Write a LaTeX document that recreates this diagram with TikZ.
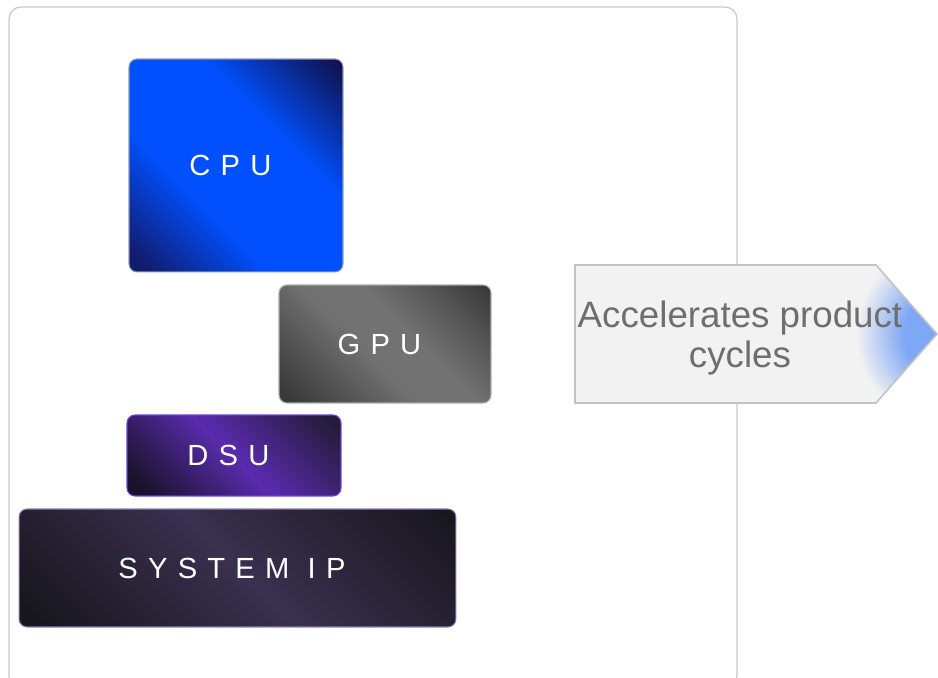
\documentclass[tikz,border=0pt]{standalone}
\usepackage{fontspec}
\setmainfont{Liberation Sans}
\newfontfamily\chipfont[LetterSpace=35]{Liberation Sans}
\definecolor{framegray}{HTML}{C8C8C8}
\definecolor{cpudark}{HTML}{121C6E}
\definecolor{cpublue}{HTML}{0050FF}
\definecolor{cpunight}{HTML}{10124E}
\definecolor{cpuedge}{HTML}{8A96B8}
\definecolor{gpudark}{HTML}{3A3A3A}
\definecolor{gpulight}{HTML}{727272}
\definecolor{gpuedge}{HTML}{A8A8A8}
\definecolor{dsudark}{HTML}{18132A}
\definecolor{dsuviolet}{HTML}{5A2BAE}
\definecolor{dsunight}{HTML}{231C38}
\definecolor{dsuedge}{HTML}{6F3FD6}
\definecolor{ipdark}{HTML}{18171D}
\definecolor{ipmid}{HTML}{3A3050}
\definecolor{ipedge}{HTML}{8C7CAC}
\definecolor{arrowfill}{HTML}{F2F2F2}
\definecolor{arrowblue}{HTML}{7EA7F5}
\definecolor{arrowedge}{HTML}{C2C2C2}
\definecolor{textgray}{HTML}{6E6E6E}
\pgfdeclarehorizontalshading{cpushade}{100bp}{color(0bp)=(cpudark); color(18bp)=(cpudark); color(38bp)=(cpublue); color(62bp)=(cpublue); color(84bp)=(cpunight); color(100bp)=(cpunight)}
\pgfdeclarehorizontalshading{gpushade}{100bp}{color(0bp)=(gpudark); color(18bp)=(gpudark); color(45bp)=(gpulight); color(58bp)=(gpulight); color(84bp)=(gpudark); color(100bp)=(gpudark)}
\pgfdeclarehorizontalshading{dsushade}{100bp}{color(0bp)=(dsudark); color(20bp)=(dsudark); color(50bp)=(dsuviolet); color(82bp)=(dsunight); color(100bp)=(dsunight)}
\pgfdeclarehorizontalshading{ipshade}{100bp}{color(0bp)=(ipdark); color(18bp)=(ipdark); color(50bp)=(ipmid); color(84bp)=(ipdark); color(100bp)=(ipdark)}
\pgfdeclareradialshading{tipglow}{\pgfpointorigin}{color(0bp)=(arrowblue); color(12bp)=(arrowblue); color(25bp)=(arrowfill); color(50bp)=(arrowfill)}
\newcommand{\chiplabel}[1]{\raisebox{-0.8pt}{#1}\kern0.38em}
\tikzset{
  chip/.style={shade, shading angle=45, rounded corners=0.16cm, line width=0.6pt,
    inner sep=0pt, text=white, font=\chipfont\fontsize{16.6}{20}\selectfont},
}
\begin{document}
\begin{tikzpicture}[x=0.02cm,y=-0.02cm]
\useasboundingbox (0,0) rectangle (938,678);
\draw[framegray, line width=0.7pt, rounded corners=0.24cm] (9,7) rectangle (737,688);
\node[chip, shading=cpushade, draw=cpuedge, minimum width=4.28cm, minimum height=4.26cm] at (236,165.5) (cpu) {\chiplabel{CPU}};
\node[chip, shading=gpushade, draw=gpuedge, minimum width=4.24cm, minimum height=2.36cm] at (385,344) (gpu) {\chiplabel{GPU}};
\node[chip, shading=dsushade, draw=dsuedge, minimum width=4.28cm, minimum height=1.62cm] at (234,455.5) (dsu) {\chiplabel{DSU}};
\node[chip, shading=ipshade, draw=ipedge, minimum width=8.74cm, minimum height=2.36cm] at (237.5,568) (sysip) {\chiplabel{SYSTEM IP}};
\fill[arrowfill] (575,265) -- (876,265) -- (937,334) -- (876,403) -- (575,403) -- cycle;
\begin{scope}
\clip (575,265) -- (876,265) -- (937,334) -- (876,403) -- (575,403) -- cycle;
\shade[shading=tipglow] (948,334) circle (92);
\end{scope}
\draw[arrowedge, line width=0.9pt] (575,265) -- (876,265) -- (937,334) -- (876,403) -- (575,403) -- cycle;
\node[text=textgray, align=center, font=\fontsize{20.9}{22.7}\selectfont] at (740,338) (accel) {Accelerates product\\cycles};
\end{tikzpicture}
\end{document}
